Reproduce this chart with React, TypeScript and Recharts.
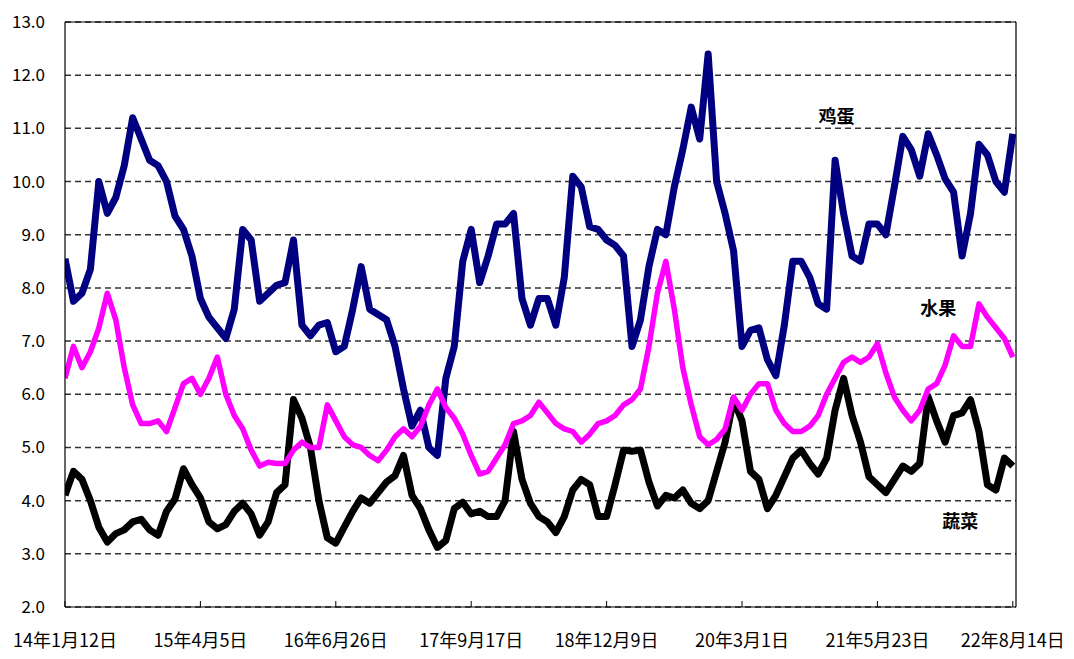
import React from 'react';
import {
  LineChart,
  Line,
  XAxis,
  YAxis,
  CartesianGrid,
  ReferenceLine,
  ReferenceDot,
} from 'recharts';

// Weekly series, sampled every 4 weeks starting 2014-01-12 (week 0)
const eggValues = [
  8.55, 7.75, 7.9, 8.35, 10.0, 9.4, 9.7, 10.3, 11.2, 10.8,
  10.4, 10.3, 10.0, 9.35, 9.1, 8.6, 7.8, 7.45, 7.25, 7.05,
  7.6, 9.1, 8.9, 7.75, 7.9, 8.05, 8.1, 8.9, 7.3, 7.1,
  7.3, 7.35, 6.8, 6.9, 7.6, 8.4, 7.6, 7.5, 7.4, 6.9,
  6.1, 5.4, 5.7, 5.0, 4.85, 6.3, 6.9, 8.5, 9.1, 8.1,
  8.6, 9.2, 9.2, 9.4, 7.8, 7.3, 7.8, 7.8, 7.3, 8.2,
  10.1, 9.9, 9.15, 9.1, 8.9, 8.8, 8.6, 6.9, 7.4, 8.4,
  9.1, 9.0, 9.9, 10.6, 11.4, 10.8, 12.4, 10.0, 9.4, 8.7,
  6.9, 7.2, 7.25, 6.65, 6.35, 7.3, 8.5, 8.5, 8.2, 7.7,
  7.6, 10.4, 9.4, 8.6, 8.5, 9.2, 9.2, 9.0, 9.9, 10.85,
  10.6, 10.1, 10.9, 10.5, 10.05, 9.8, 8.6, 9.4, 10.7, 10.5,
  10.0, 9.8, 10.9,
];

const fruitValues = [
  6.3, 6.9, 6.5, 6.8, 7.25, 7.9, 7.4, 6.5, 5.8, 5.45,
  5.45, 5.5, 5.3, 5.75, 6.2, 6.3, 6.0, 6.3, 6.7, 6.0,
  5.6, 5.35, 4.95, 4.65, 4.72, 4.7, 4.7, 4.95, 5.1, 5.0,
  5.0, 5.8, 5.5, 5.2, 5.05, 5.0, 4.85, 4.75, 4.95, 5.2,
  5.35, 5.2, 5.4, 5.8, 6.1, 5.75, 5.55, 5.25, 4.85, 4.5,
  4.55, 4.8, 5.05, 5.45, 5.5, 5.6, 5.85, 5.65, 5.45, 5.35,
  5.3, 5.1, 5.25, 5.45, 5.5, 5.6, 5.8, 5.9, 6.1, 6.9,
  7.9, 8.5, 7.6, 6.5, 5.8, 5.2, 5.05, 5.15, 5.35, 5.95,
  5.7, 6.0, 6.2, 6.2, 5.7, 5.45, 5.3, 5.3, 5.4, 5.6,
  6.0, 6.3, 6.6, 6.7, 6.6, 6.7, 6.95, 6.4, 5.95, 5.7,
  5.5, 5.7, 6.1, 6.2, 6.55, 7.1, 6.9, 6.9, 7.7, 7.45,
  7.25, 7.05, 6.7,
];

const vegValues = [
  4.1, 4.55, 4.4, 4.0, 3.5, 3.22, 3.38, 3.45, 3.6, 3.65,
  3.45, 3.35, 3.8, 4.03, 4.6, 4.3, 4.05, 3.6, 3.47, 3.55,
  3.8, 3.95, 3.75, 3.35, 3.6, 4.15, 4.3, 5.9, 5.55, 5.0,
  4.0, 3.3, 3.2, 3.5, 3.8, 4.05, 3.95, 4.15, 4.35, 4.47,
  4.85, 4.1, 3.85, 3.45, 3.12, 3.25, 3.85, 3.97, 3.75, 3.8,
  3.7, 3.7, 4.0, 5.3, 4.4, 3.95, 3.7, 3.6, 3.4, 3.7,
  4.2, 4.4, 4.3, 3.7, 3.7, 4.3, 4.95, 4.93, 4.95, 4.35,
  3.9, 4.1, 4.05, 4.2, 3.95, 3.85, 4.0, 4.55, 5.1, 5.9,
  5.5, 4.55, 4.4, 3.85, 4.1, 4.45, 4.8, 4.95, 4.7, 4.5,
  4.8, 5.7, 6.3, 5.6, 5.1, 4.45, 4.3, 4.15, 4.4, 4.65,
  4.55, 4.7, 5.95, 5.5, 5.1, 5.6, 5.65, 5.9, 5.3, 4.3,
  4.2, 4.8, 4.65,
];

const weeks = eggValues.map((_, i) => i * 4);

const tickWeeks = [0, 64, 128, 192, 256, 320, 384, 448];
const tickLabels = [
  '14年1月12日',
  '15年4月5日',
  '16年6月26日',
  '17年9月17日',
  '18年12月9日',
  '20年3月1日',
  '21年5月23日',
  '22年8月14日',
];
const yTicks = [2, 3, 4, 5, 6, 7, 8, 9, 10, 11, 12, 13];

const seriesNames = { egg: '鸡蛋', fruit: '水果', veg: '蔬菜' };

const data = weeks.map((w, i) => ({
  week: w,
  egg: eggValues[i],
  fruit: fruitValues[i],
  veg: vegValues[i],
}));

const FONT = "'Liberation Sans Narrow', 'Arial Narrow', 'Noto Sans CJK SC', sans-serif";
const CJK_FONT = "'Noto Sans CJK SC', sans-serif";

const makeLabel = (text: string) => (props: any) => (
  <text
    x={props.cx}
    y={props.cy}
    textAnchor="middle"
    dominantBaseline="central"
    fontFamily={CJK_FONT}
    fontSize={18}
    fontWeight="bold"
    fill="#000"
  >
    {text}
  </text>
);

export default function App() {
  return (
    <LineChart
      width={1058}
      height={643}
      data={data}
      margin={{ top: 14, right: 50, bottom: 4, left: 0 }}
    >
      <CartesianGrid
        vertical={false}
        stroke="#333"
        strokeWidth={1.5}
        strokeDasharray="6 4"
      />
      <XAxis
        dataKey="week"
        type="number"
        domain={[0, 449.5]}
        ticks={tickWeeks}
        tickFormatter={(v: number) => tickLabels[tickWeeks.indexOf(v)] ?? ''}
        axisLine={{ stroke: '#000', strokeWidth: 1.2 }}
        tickLine={{ stroke: '#000' }}
        tickSize={-6}
        tickMargin={33}
        height={40}
        tick={{ fill: '#000', fontSize: 18, fontFamily: FONT }}
        interval={0}
        allowDataOverflow
      />
      <YAxis
        type="number"
        domain={[2, 13]}
        ticks={yTicks}
        tickFormatter={(v: number) => v.toFixed(1)}
        axisLine={{ stroke: '#000', strokeWidth: 1.2 }}
        tickLine={false}
        tickSize={0}
        tickMargin={20}
        width={57}
        tick={{ fill: '#000', fontSize: 17, fontFamily: FONT }}
        interval={0}
      />
      <ReferenceLine y={13} stroke="#000" strokeWidth={1.2} />
      <ReferenceLine x={449.5} stroke="#000" strokeWidth={1.2} />
      <Line
        dataKey="veg"
        name={seriesNames.veg}
        stroke="#000000"
        strokeWidth={7}
        dot={false}
        type="linear"
        strokeLinejoin="round"
        isAnimationActive={false}
      />
      <Line
        dataKey="egg"
        name={seriesNames.egg}
        stroke="#000080"
        strokeWidth={7}
        dot={false}
        type="linear"
        strokeLinejoin="round"
        isAnimationActive={false}
      />
      <Line
        dataKey="fruit"
        name={seriesNames.fruit}
        stroke="#FF00FF"
        strokeWidth={5.5}
        dot={false}
        type="linear"
        strokeLinejoin="round"
        isAnimationActive={false}
      />
      <ReferenceDot x={364.7} y={11.25} r={0} shape={makeLabel(seriesNames.egg)} />
      <ReferenceDot x={412.8} y={7.64} r={0} shape={makeLabel(seriesNames.fruit)} />
      <ReferenceDot x={423.2} y={3.63} r={0} shape={makeLabel(seriesNames.veg)} />
    </LineChart>
  );
}
